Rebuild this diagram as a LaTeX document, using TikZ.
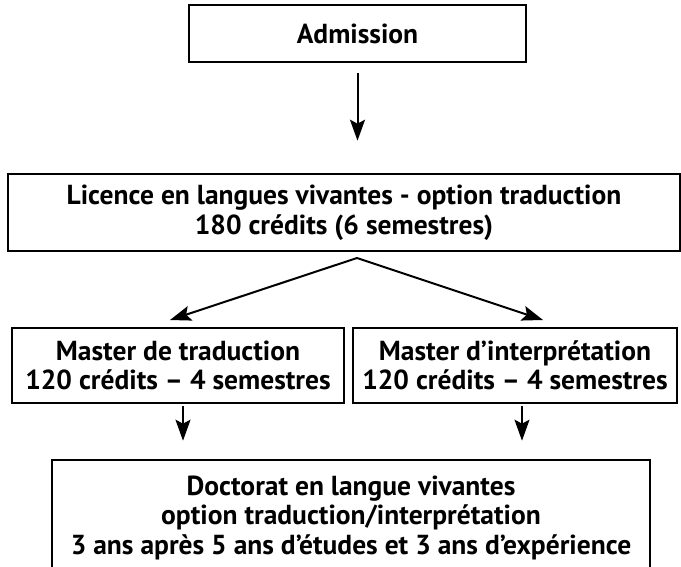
\documentclass[tikz,border=0pt]{standalone}
\usepackage{fontspec}
\setmainfont{PT Sans}
\usepackage{tikz}
\usetikzlibrary{arrows.meta}

\tikzset{
  box/.style={draw, line width=2.6pt, inner sep=0pt, align=center,
    font=\bfseries\fontsize{27.5}{29.5}\selectfont},
  arr/.style={line width=2pt, -{Stealth[length=21pt,width=15pt,inset=4pt]}}
}

\begin{document}
\begin{tikzpicture}[x=1pt,y=-1pt]
  \useasboundingbox (0,0) rectangle (681,566);
  \node[box, minimum width=337pt, minimum height=57pt] (adm) at (357.5,33.5) {Admission};
  \node[box, minimum width=672pt, minimum height=77pt] (lic) at (344,212.5)
    {Licence en langues vivantes - option traduction\\180 crédits (6 semestres)};
  \node[box, minimum width=332pt, minimum height=75pt] (trad) at (178,365.5)
    {Master de traduction\\120 crédits – 4 semestres};
  \node[box, minimum width=324pt, minimum height=75pt] (interp) at (515,365.5)
    {Master d’interprétation\\120 crédits – 4 semestres};
  \node[box, minimum width=598pt, minimum height=115pt] (doc) at (351,517.5)
    {Doctorat en langue vivantes\\option traduction/interprétation\\
     3 ans après 5 ans d’études et 3 ans d’expérience};
  \coordinate (fork) at (357,258);
  \coordinate (tipL) at (170,320);
  \coordinate (tipR) at (543,320);
  \draw[arr, shorten <=10pt, shorten >=32pt] (adm.south) -- (adm.south |- lic.north);
  \draw[arr] (fork) -- (tipL);
  \draw[arr] (fork) -- (tipR);
  \draw[arr, shorten <=2pt, shorten >=18pt] ([xshift=5pt]trad.south) -- ([xshift=5pt]trad.south |- doc.north);
  \draw[arr, shorten <=2pt, shorten >=18pt] ([xshift=7pt]interp.south) -- ([xshift=7pt]interp.south |- doc.north);
\end{tikzpicture}
\end{document}
